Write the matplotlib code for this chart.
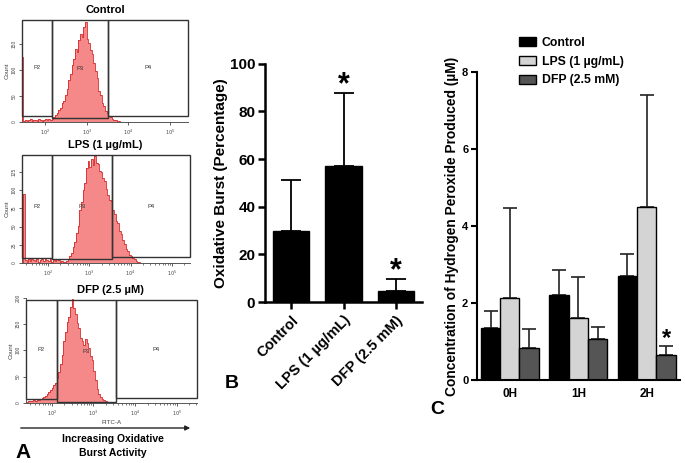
import numpy as np
import matplotlib
matplotlib.use("Agg")
import matplotlib.pyplot as plt
from matplotlib.patches import Rectangle
from matplotlib.ticker import LogLocator, NullFormatter

plt.rcParams['font.family'] = ['Liberation Sans', 'DejaVu Sans']

# ---------------- Panel A data (flow cytometry histograms) ----------------
bin_step = 0.04
control_log_start = 1.44
control_counts = [125, 2, 4, 1, 3, 5, 2, 4, 3, 1, 5, 3, 2, 4, 6, 3, 5,
                  3, 6, 9, 13, 17, 23, 27, 36, 41, 52, 64, 80, 92, 110, 121, 140,
                  135, 158, 170, 164, 182, 192, 160, 152, 138, 130, 114, 98, 84, 60,
                  52, 37, 30, 21, 17, 12, 9, 6, 4, 3, 2, 1]
lps_log_start = 1.40
lps_counts = [95, 4, 2, 5, 3, 6, 4, 3, 5, 2, 4, 6, 3, 5, 4, 3, 5, 2, 4, 3, 5, 4, 2, 3, 2,
              2, 3, 5, 9, 14, 22, 29, 41, 51, 72, 83, 100, 110, 130, 140, 131, 142, 134,
              147, 137, 135, 126, 125, 117, 113, 101, 93, 86, 85, 72, 67, 58, 55, 44,
              40, 31, 26, 19, 17, 11, 9, 7, 5, 3, 2, 1]
dfp_log_start = 1.40
dfp_counts = [2, 3, 4, 3, 5, 4, 6, 5, 7, 9, 11, 13, 16, 20, 24, 28, 33, 38, 48, 58,
              74, 92, 118, 136, 154, 164, 182, 198, 180, 170, 152, 142, 123, 118, 110,
              121, 114, 105, 90, 81, 60, 43, 27, 17, 11, 7, 5, 4, 2, 1]
hist_titles = ["Control", "LPS (1 \u00b5g/mL)", "DFP (2.5 \u00b5M)"]
hist_yticks = [[0, 50, 100, 150], [0, 25, 50, 75, 100, 125], [0, 50, 100, 150, 200]]
hist_xticks = [100, 1000, 10000, 100000]
hist_xticklabels = ["$10^2$", "$10^3$", "$10^4$", "$10^5$"]
gate_names = ["P2", "P3", "P4"]

# ---------------- Panel B data ----------------
b_categories = ["Control", "LPS (1 \u00b5g/mL)", "DFP (2.5 mM)"]
b_values = [30.0, 57.0, 4.5]
b_err = [21.0, 30.5, 5.0]
b_sig = [False, True, True]
b_yticks = [0, 20, 40, 60, 80, 100]

# ---------------- Panel C data ----------------
c_groups = ["0H", "1H", "2H"]
c_series = ["Control", "LPS (1 \u00b5g/mL)", "DFP (2.5 mM)"]
c_control = [1.36, 2.20, 2.70]
c_control_err = [0.44, 0.67, 0.58]
c_lps = [2.14, 1.62, 4.50]
c_lps_err = [2.34, 1.06, 2.92]
c_dfp = [0.83, 1.07, 0.65]
c_dfp_err = [0.49, 0.31, 0.23]
c_sig_dfp = [False, False, True]
c_yticks = [0, 2, 4, 6, 8]

W, H = 685, 463
fig = plt.figure(figsize=(W / 100, H / 100), dpi=100)


def rect(x0, y0, x1, y1):
    return [x0 / W, 1 - y1 / H, (x1 - x0) / W, (y1 - y0) / H]


# ---------------- Panel A ----------------
hist_specs = [
    dict(box=(22, 20, 188, 122), xl=(1.448, 5.43), yl=(0, 196), gates=(2.17, 3.51),
         gh=(12, 8, 12), data=(control_log_start, control_counts), title_y=10),
    dict(box=(22, 155, 190, 263), xl=(1.37, 5.44), yl=(0, 148), gates=(2.10, 3.56),
         gh=(7, 5.5, 8), data=(lps_log_start, lps_counts), title_y=145),
    dict(box=(26, 298, 197, 402.7), xl=(1.38, 5.49), yl=(0, 196), gates=(2.12, 3.54),
         gh=(7.5, 0.5, 9), data=(dfp_log_start, dfp_counts), title_y=290),
]
for i, sp in enumerate(hist_specs):
    ax = fig.add_axes(rect(*sp['box']))
    start, counts = sp['data']
    edges = 10 ** (start + bin_step * np.arange(len(counts) + 1))
    ax.stairs(counts, edges, fill=True, color='#f58888', zorder=2)
    ax.stairs(counts, edges, fill=False, color='#d42a2a', lw=0.6, zorder=3)
    ax.set_xscale('log')
    x0, x1 = 10 ** sp['xl'][0], 10 ** sp['xl'][1]
    ax.set_xlim(x0, x1)
    ax.set_ylim(*sp['yl'])
    g1, g2 = 10 ** sp['gates'][0], 10 ** sp['gates'][1]
    top = sp['yl'][1]
    bounds = [(x0, g1, sp['gh'][0]), (g1, g2, sp['gh'][1]), (g2, x1, sp['gh'][2])]
    for (a, b, h), name in zip(bounds, gate_names):
        ax.add_patch(Rectangle((a, h), b - a, top - h, fill=False, ec='#333333',
                               lw=1.0, zorder=4, clip_on=False))
        ax.text(np.sqrt(a * b), h + (top - h) * 0.5, name, fontsize=4.2,
                ha='center', va='center', color='#333333', zorder=5)
    for s in ['top', 'right']:
        ax.spines[s].set_visible(False)
    for s in ['left', 'bottom']:
        ax.spines[s].set_linewidth(0.7)
        ax.spines[s].set_color('#555555')
    ax.set_yticks(hist_yticks[i])
    ax.set_yticklabels([str(v) for v in hist_yticks[i]], rotation=90, fontsize=3.5,
                       va='center', color='#444444')
    ax.set_xticks(hist_xticks)
    ax.set_xticklabels(hist_xticklabels, fontsize=3.5, color='#444444')
    ax.xaxis.set_minor_locator(LogLocator(base=10, subs=np.arange(2, 10)))
    ax.xaxis.set_minor_formatter(NullFormatter())
    ax.tick_params(axis='both', which='major', length=2.5, width=0.6, pad=1.5, colors='#444444')
    ax.tick_params(axis='x', which='minor', length=1.5, width=0.5, colors='#444444')
    ax.set_ylabel('Count', fontsize=4.5, labelpad=1, color='#444444')
    if i == 2:
        ax.set_xlabel('FITC-A', fontsize=4.5, labelpad=1.5, color='#444444')
    fig.text(105 / W if i < 2 else 110 / W, 1 - sp['title_y'] / H, hist_titles[i],
             fontsize=8, fontweight='bold', ha='center', va='center')

fig.add_artist(matplotlib.patches.FancyArrowPatch(
    (18 / W, 1 - 428 / H), (193 / W, 1 - 428 / H), transform=fig.transFigure,
    arrowstyle='-|>', mutation_scale=7, lw=1.0, color='#222222'))
fig.text(113 / W, 1 - 439 / H, 'Increasing Oxidative', fontsize=7.5,
         fontweight='bold', ha='center', va='center')
fig.text(113 / W, 1 - 453 / H, 'Burst Activity', fontsize=7.5,
         fontweight='bold', ha='center', va='center')
fig.text(23 / W, 1 - 452 / H, 'A', fontsize=15, fontweight='bold', ha='center', va='center')

# ---------------- Panel B ----------------
axb = fig.add_axes(rect(265, 63.7, 422, 302))
xb = np.arange(len(b_categories))
axb.errorbar(xb, b_values, yerr=[np.zeros(len(b_values)), b_err], fmt='none',
             ecolor='black', elinewidth=1.3, capsize=7, capthick=1.3, zorder=1)
axb.bar(xb, b_values, width=0.695, color='black', edgecolor='black', zorder=2)
for xi, v, e, s in zip(xb, b_values, b_err, b_sig):
    if s:
        axb.text(xi, v + e - 3.0, '*', fontsize=22, fontweight='bold',
                 ha='center', va='bottom')
axb.set_xlim(-0.5, 2.5)
axb.set_ylim(0, 100)
axb.set_yticks(b_yticks)
axb.set_yticklabels([str(v) for v in b_yticks], fontsize=11, fontweight='bold')
axb.set_xticks(xb)
axb.set_xticklabels(b_categories, rotation=45, ha='right', rotation_mode='anchor',
                    fontsize=10.5, fontweight='bold')
for s in ['top', 'right']:
    axb.spines[s].set_visible(False)
for s in ['left', 'bottom']:
    axb.spines[s].set_linewidth(1.8)
axb.tick_params(axis='y', length=5, width=1.8, pad=2)
axb.tick_params(axis='x', length=5, width=1.8, pad=3)
axb.set_ylabel('Oxidative Burst (Percentage)', fontsize=11, fontweight='bold', labelpad=1)
fig.text(232 / W, 1 - 383 / H, 'B', fontsize=14, fontweight='bold', ha='center', va='center')

# ---------------- Panel C ----------------
axc = fig.add_axes(rect(476.7, 72.3, 680, 380))
xc = np.arange(len(c_groups))
bw = 0.282
series = [(c_control, c_control_err, 'black'),
          (c_lps, c_lps_err, '#d4d4d4'),
          (c_dfp, c_dfp_err, '#555555')]
handles = []
for k, (vals, errs, col) in enumerate(series):
    pos = xc + (k - 1) * bw
    axc.errorbar(pos, vals, yerr=[np.zeros(len(vals)), errs], fmt='none',
                 ecolor='#222222', elinewidth=1.2, capsize=5, capthick=1.2, zorder=1)
    h = axc.bar(pos, vals, width=bw, color=col, edgecolor='black', lw=1.0,
                zorder=2, label=c_series[k])
    handles.append(h)
for xi, v, e, s in zip(xc + bw, c_dfp, c_dfp_err, c_sig_dfp):
    if s:
        axc.text(xi, v + e - 0.1, '*', fontsize=17, fontweight='bold',
                 ha='center', va='bottom')
axc.set_xlim(-0.4836, 2.486)
axc.set_ylim(0, 8)
axc.set_yticks(c_yticks)
axc.set_yticklabels([str(v) for v in c_yticks], fontsize=8, fontweight='bold')
axc.set_xticks(xc)
axc.set_xticklabels(c_groups, fontsize=8.5, fontweight='bold')
for s in ['top', 'right']:
    axc.spines[s].set_visible(False)
for s in ['left', 'bottom']:
    axc.spines[s].set_linewidth(1.5)
axc.tick_params(axis='y', length=4, width=1.5, pad=2)
axc.tick_params(axis='x', length=0, pad=6)
axc.set_ylabel('Concentration of Hydrogen Peroxide Produced (\u00b5M)', fontsize=9.9,
               fontweight='bold', labelpad=2)
leg = axc.legend(handles=handles, loc='upper left', bbox_to_anchor=(519 / W, 1 - 37 / H),
                 bbox_transform=fig.transFigure, frameon=False, handlelength=1.35,
                 handleheight=0.8, handletextpad=0.5, labelspacing=0.55,
                 prop={'weight': 'bold', 'size': 8.8}, borderaxespad=0, borderpad=0)
fig.text(437 / W, 1 - 410 / H, 'C', fontsize=14, fontweight='bold', ha='center', va='center')

fig.savefig('out.png', dpi=100)
